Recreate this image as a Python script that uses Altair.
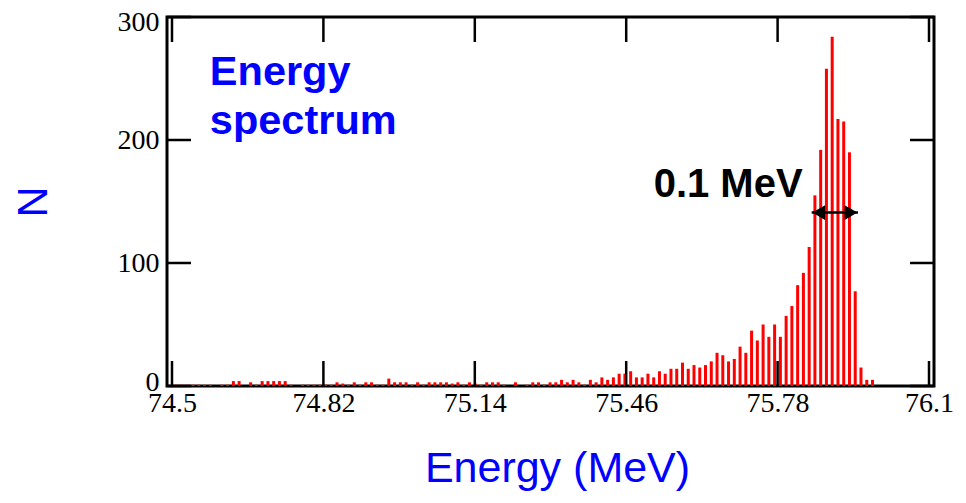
import altair as alt
import pandas as pd

# Histogram definition (bin centres start and bin width, MeV)
bin_start = 74.508
bin_width = 0.01217

counts = [
    1, 1, 1, 1, 1, 1, 1, 0, 1, 1,
    4, 4, 0, 3, 1, 4, 4, 4, 4, 4,
    1, 0, 1, 1, 1, 1, 1, 1, 3, 2,
    1, 3, 1, 3, 3, 1, 1, 6, 3, 3,
    3, 1, 3, 1, 3, 3, 3, 3, 2, 3,
    1, 3, 2, 1, 3, 3, 3, 1, 0, 3,
    0, 1, 3, 3, 1, 3, 3, 5, 3, 5,
    3, 1, 5, 3,
    7, 5, 7, 10, 10, 12, 7, 7, 10, 7,
    12, 10, 14, 14, 19, 14, 17, 15, 17, 20,
    27, 25, 20, 22, 32, 27, 45, 37, 50, 40,
    50, 40, 57, 65, 82, 92, 113, 155, 192, 258,
    284, 217, 215, 190, 77, 15, 5, 5,
]

x_ticks = [74.5, 74.82, 75.14, 75.46, 75.78, 76.1]
y_ticks = [0, 100, 200, 300]

arrow_from = 75.852
arrow_to = 75.950
arrow_level = 141

label_text = ["0.1 MeV"]
label_x = [75.518]
label_y = [154]

legend_text = ["Energy\nspectrum"]
legend_x = [74.580]
legend_y = [245]

W, H = 767, 369
XT, YT = "Energy (MeV)", "N"

energies = [bin_start + i * bin_width for i in range(len(counts))]
df = pd.DataFrame({"energy": energies, "count": counts})
xdf = pd.DataFrame({"v": x_ticks})
ydf = pd.DataFrame({"v": y_ticks})

xs = alt.Scale(domain=[74.5, 76.1], nice=False, zero=False)
ys = alt.Scale(domain=[0, 300], nice=False)


def X(f):
    return alt.X(f, type="quantitative", scale=xs, title=XT)


def Y(f):
    return alt.Y(f, type="quantitative", scale=ys, title=YT)


bars = alt.Chart(df).mark_bar(size=3, color="#ff0000").encode(
    x=alt.X("energy:Q", scale=xs, title=XT,
            axis=alt.Axis(values=x_ticks, format=".2~f")),
    y=alt.Y("count:Q", scale=ys, title=YT,
            axis=alt.Axis(values=y_ticks, format="d")),
)

tk = dict(color="black", strokeWidth=2.5)
bottom_ticks = alt.Chart(xdf).mark_rule(**tk).encode(
    x=X("v"), y=alt.value(H), y2=alt.value(H - 25))
top_ticks = alt.Chart(xdf).mark_rule(**tk).encode(
    x=X("v"), y=alt.value(0), y2=alt.value(25))
left_ticks = alt.Chart(ydf).mark_rule(**tk).encode(
    y=Y("v"), x=alt.value(0), x2=alt.value(24))
right_ticks = alt.Chart(ydf).mark_rule(**tk).encode(
    y=Y("v"), x=alt.value(W - 24), x2=alt.value(W))

arrow_df = pd.DataFrame({"a": [arrow_from], "b": [arrow_to], "y": [arrow_level]})
arrow_line = alt.Chart(arrow_df).mark_rule(color="black", strokeWidth=2.5).encode(
    x=X("a"), x2="b:Q", y=Y("y"))
head_l = alt.Chart(arrow_df).mark_point(
    shape="triangle-left", filled=True, color="black", size=220, xOffset=7, opacity=1
).encode(x=X("a"), y=Y("y"))
head_r = alt.Chart(arrow_df).mark_point(
    shape="triangle-right", filled=True, color="black", size=220, xOffset=-7, opacity=1
).encode(x=X("b"), y=Y("y"))

lab_df = pd.DataFrame({"t": label_text, "x": label_x, "y": label_y})
label = alt.Chart(lab_df).mark_text(
    align="left", baseline="alphabetic", font="Liberation Sans", fontWeight="bold",
    fontSize=40, color="black"
).encode(x=X("x"), y=Y("y"), text="t:N")

leg_df = pd.DataFrame({"t": legend_text, "x": legend_x, "y": legend_y})
legend = alt.Chart(leg_df).mark_text(
    align="left", baseline="alphabetic", font="Liberation Sans", fontWeight="bold",
    fontSize=41.5, color="#0000ff", lineBreak="\n", lineHeight=49
).encode(x=X("x"), y=Y("y"), text="t:N")

chart = alt.layer(
    bars, bottom_ticks, top_ticks, left_ticks, right_ticks,
    arrow_line, head_l, head_r, label, legend
).properties(
    width=W, height=H,
    autosize=alt.AutoSizeParams(type="none"),
    padding={"left": 159, "top": 9, "right": 22, "bottom": 107},
).configure_view(
    stroke="black", strokeWidth=3
).configure_axis(
    grid=False, ticks=False, domain=False,
    labelFont="Liberation Serif", labelFontSize=28, labelColor="black",
    titleFont="Liberation Sans", titleFontSize=43, titleColor="#0000ff",
    titleFontWeight="normal",
).configure_axisX(
    labelPadding=3, titlePadding=30, labelFlush=False, titleX=390,
).configure_axisY(
    labelPadding=8, titlePadding=62, labelBaseline="middle", labelFlush=False,
    labelOffset={
        "condition": [
            {"test": "datum.value == 300", "value": 5},
            {"test": "datum.value == 0", "value": -4},
        ],
        "value": 0,
    },
)

chart.save("out.html", embed_options={"renderer": "svg", "actions": False})
